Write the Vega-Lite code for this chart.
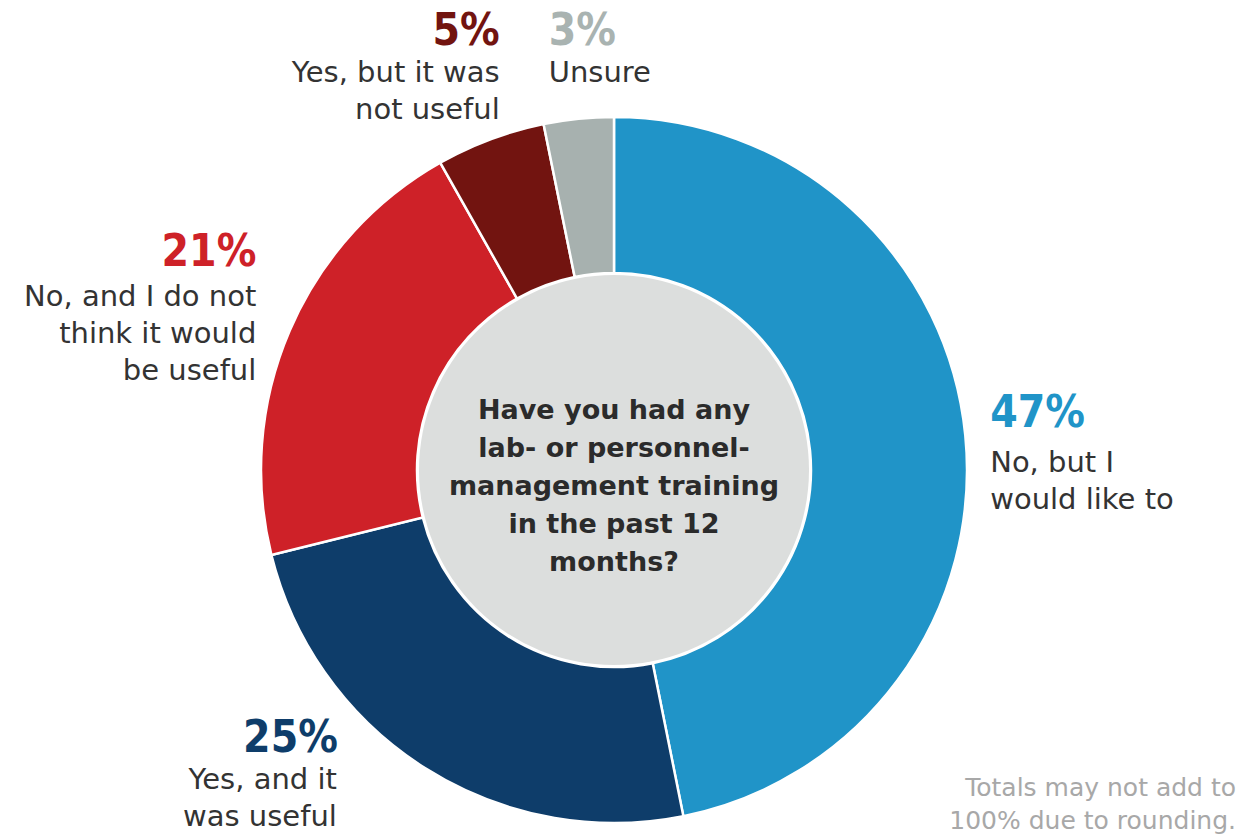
{
  "$schema": "https://vega.github.io/schema/vega-lite/v6.json",
  "width": 1228,
  "height": 732,
  "autosize": {"type": "none"},
  "padding": {"left": 0, "top": 104, "right": 15, "bottom": 0},
  "background": "white",
  "config": {"view": {"stroke": null}},
  "layer": [
    {
      "data": {"values": [
        {"idx": 1, "answer": "No, but I would like to", "share": 46.9, "pct": "47%", "desc": ["No, but I", "would like to"]},
        {"idx": 2, "answer": "Yes, and it was useful", "share": 24.3, "pct": "25%", "desc": ["Yes, and it", "was useful"]},
        {"idx": 3, "answer": "No, and I do not think it would be useful", "share": 20.7, "pct": "21%", "desc": ["No, and I do not", "think it would", "be useful"]},
        {"idx": 4, "answer": "Yes, but it was not useful", "share": 5.0, "pct": "5%", "desc": ["Yes, but it was", "not useful"]},
        {"idx": 5, "answer": "Unsure", "share": 3.2, "pct": "3%", "desc": ["Unsure"]}
      ]},
      "encoding": {
        "theta": {"field": "share", "type": "quantitative", "stack": true},
        "order": {"field": "idx", "type": "quantitative"}
      },
      "layer": [
        {
          "mark": {"type": "arc", "outerRadius": 353, "innerRadius": 197, "stroke": "white", "strokeWidth": 2.5},
          "encoding": {
            "color": {"field": "answer", "type": "nominal", "legend": null,
              "scale": {"domain": ["No, but I would like to", "Yes, and it was useful", "No, and I do not think it would be useful", "Yes, but it was not useful", "Unsure"],
                        "range": ["#2094c8", "#0e3d6a", "#ce2128", "#721410", "#a7b1af"]}}
          }
        },
        {
          "mark": {"type": "text", "radius": 372, "align": "left", "baseline": "alphabetic", "dx": 6, "dy": -6, "font": "DejaVu Sans Condensed, sans-serif", "fontSize": 44, "fontWeight": "bold", "fill": "#2094c8"},
          "encoding": {"text": {"condition": {"test": "datum.idx == 1", "field": "pct", "type": "nominal"}, "value": ""}}
        },
        {
          "mark": {"type": "text", "radius": 372, "align": "left", "baseline": "alphabetic", "dx": 6, "dy": 39, "font": "DejaVu Sans", "fontSize": 29, "lineHeight": 37, "fill": "#333333"},
          "encoding": {"text": {"condition": {"test": "datum.idx == 1", "field": "desc", "type": "nominal"}, "value": ""}}
        },
        {
          "mark": {"type": "text", "radius": 372, "align": "right", "baseline": "alphabetic", "dx": -77, "dy": -32, "font": "DejaVu Sans Condensed, sans-serif", "fontSize": 44, "fontWeight": "bold", "fill": "#0e3d6a"},
          "encoding": {"text": {"condition": {"test": "datum.idx == 2", "field": "pct", "type": "nominal"}, "value": ""}}
        },
        {
          "mark": {"type": "text", "radius": 372, "align": "right", "baseline": "alphabetic", "dx": -78, "dy": 5, "font": "DejaVu Sans", "fontSize": 29, "lineHeight": 37, "fill": "#333333"},
          "encoding": {"text": {"condition": {"test": "datum.idx == 2", "field": "desc", "type": "nominal"}, "value": ""}}
        },
        {
          "mark": {"type": "text", "radius": 372, "align": "right", "baseline": "alphabetic", "dx": -16, "dy": -57, "font": "DejaVu Sans Condensed, sans-serif", "fontSize": 44, "fontWeight": "bold", "fill": "#ce2128"},
          "encoding": {"text": {"condition": {"test": "datum.idx == 3", "field": "pct", "type": "nominal"}, "value": ""}}
        },
        {
          "mark": {"type": "text", "radius": 372, "align": "right", "baseline": "alphabetic", "dx": -16, "dy": -17, "font": "DejaVu Sans", "fontSize": 29, "lineHeight": 37, "fill": "#333333"},
          "encoding": {"text": {"condition": {"test": "datum.idx == 3", "field": "desc", "type": "nominal"}, "value": ""}}
        },
        {
          "mark": {"type": "text", "radius": 372, "align": "right", "baseline": "alphabetic", "dx": 16, "dy": -77, "font": "DejaVu Sans Condensed, sans-serif", "fontSize": 44, "fontWeight": "bold", "fill": "#721410"},
          "encoding": {"text": {"condition": {"test": "datum.idx == 4", "field": "pct", "type": "nominal"}, "value": ""}}
        },
        {
          "mark": {"type": "text", "radius": 372, "align": "right", "baseline": "alphabetic", "dx": 16, "dy": -40, "font": "DejaVu Sans", "fontSize": 29, "lineHeight": 37, "fill": "#333333"},
          "encoding": {"text": {"condition": {"test": "datum.idx == 4", "field": "desc", "type": "nominal"}, "value": ""}}
        },
        {
          "mark": {"type": "text", "radius": 372, "align": "left", "baseline": "alphabetic", "dx": -28, "dy": -55, "font": "DejaVu Sans Condensed, sans-serif", "fontSize": 44, "fontWeight": "bold", "fill": "#a9b3b1"},
          "encoding": {"text": {"condition": {"test": "datum.idx == 5", "field": "pct", "type": "nominal"}, "value": ""}}
        },
        {
          "mark": {"type": "text", "radius": 372, "align": "left", "baseline": "alphabetic", "dx": -28, "dy": -18, "font": "DejaVu Sans", "fontSize": 29, "lineHeight": 37, "fill": "#333333"},
          "encoding": {"text": {"condition": {"test": "datum.idx == 5", "field": "desc", "type": "nominal"}, "value": ""}}
        }
      ]
    },
    {
      "data": {"values": [{"part": "centre"}]},
      "mark": {"type": "arc", "radius": 195, "theta": 0, "theta2": 6.2832, "fill": "#dcdedd"},
      "encoding": {}
    },
    {
      "data": {"values": [{"question": ["Have you had any", "lab- or personnel-", "management training", "in the past 12", "months?"]}]},
      "mark": {"type": "text", "align": "center", "baseline": "middle", "dy": -59, "font": "DejaVu Sans", "fontSize": 27, "fontWeight": "bold", "lineHeight": 38, "fill": "#2b2b2b"},
      "encoding": {"text": {"field": "question", "type": "nominal"}}
    },
    {
      "data": {"values": [{"note": ["Totals may not add to", "100% due to rounding."]}]},
      "mark": {"type": "text", "align": "right", "baseline": "alphabetic", "dx": 8, "dy": -40, "font": "DejaVu Sans", "fontSize": 25, "lineHeight": 33, "fill": "#a8a8a8"},
      "encoding": {"text": {"field": "note", "type": "nominal"}, "x": {"value": "width"}, "y": {"value": "height"}}
    }
  ]
}
